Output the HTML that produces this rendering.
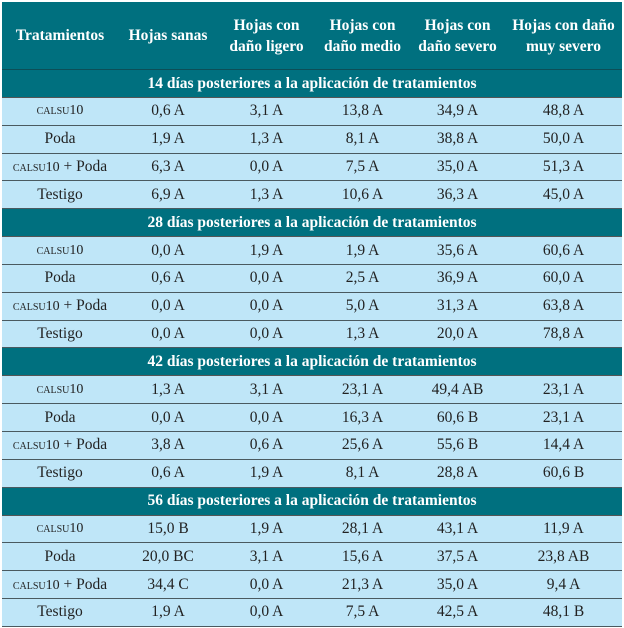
<!DOCTYPE html>
<html><head><meta charset="utf-8"><style>
body{margin:0;background:#fff;width:624px;height:628px;overflow:hidden}
table{position:absolute;left:2px;top:2px;width:620px;border-collapse:collapse;font-family:"Liberation Serif",serif;font-size:15.5px;color:#222;table-layout:fixed}
td,th{text-align:center;padding:0;vertical-align:middle}
th{background:#00707f;color:#fff;font-weight:bold;height:67px;line-height:21px}
tr.sec td{background:#00707f;color:#fff;font-weight:bold;height:27px;border-top:1px solid #0c4e57;border-bottom:1px solid #555}
tr.d td{background:#bfe6f8;height:26.8px;border-bottom:1px solid #4a5a60}
.sc{font-variant:small-caps;font-size:14px}
</style></head><body>
<table>
<colgroup><col style="width:116px"><col style="width:100px"><col style="width:97px"><col style="width:95px"><col style="width:95px"><col style="width:117px"></colgroup>
<tr><th>Tratamientos</th><th>Hojas sanas</th><th>Hojas con<br>daño ligero</th><th>Hojas con<br>daño medio</th><th>Hojas con<br>daño severo</th><th>Hojas con daño<br>muy severo</th></tr>
<tr class="sec"><td colspan="6">14 días posteriores a la aplicación de tratamientos</td></tr>
<tr class="d"><td class="sc">calsu10</td><td>0,6 A</td><td>3,1 A</td><td>13,8 A</td><td>34,9 A</td><td>48,8 A</td></tr>
<tr class="d"><td>Poda</td><td>1,9 A</td><td>1,3 A</td><td>8,1 A</td><td>38,8 A</td><td>50,0 A</td></tr>
<tr class="d"><td><span class="sc">calsu10</span> + Poda</td><td>6,3 A</td><td>0,0 A</td><td>7,5 A</td><td>35,0 A</td><td>51,3 A</td></tr>
<tr class="d"><td>Testigo</td><td>6,9 A</td><td>1,3 A</td><td>10,6 A</td><td>36,3 A</td><td>45,0 A</td></tr>
<tr class="sec"><td colspan="6">28 días posteriores a la aplicación de tratamientos</td></tr>
<tr class="d"><td class="sc">calsu10</td><td>0,0 A</td><td>1,9 A</td><td>1,9 A</td><td>35,6 A</td><td>60,6 A</td></tr>
<tr class="d"><td>Poda</td><td>0,6 A</td><td>0,0 A</td><td>2,5 A</td><td>36,9 A</td><td>60,0 A</td></tr>
<tr class="d"><td><span class="sc">calsu10</span> + Poda</td><td>0,0 A</td><td>0,0 A</td><td>5,0 A</td><td>31,3 A</td><td>63,8 A</td></tr>
<tr class="d"><td>Testigo</td><td>0,0 A</td><td>0,0 A</td><td>1,3 A</td><td>20,0 A</td><td>78,8 A</td></tr>
<tr class="sec"><td colspan="6">42 días posteriores a la aplicación de tratamientos</td></tr>
<tr class="d"><td class="sc">calsu10</td><td>1,3 A</td><td>3,1 A</td><td>23,1 A</td><td>49,4 AB</td><td>23,1 A</td></tr>
<tr class="d"><td>Poda</td><td>0,0 A</td><td>0,0 A</td><td>16,3 A</td><td>60,6 B</td><td>23,1 A</td></tr>
<tr class="d"><td><span class="sc">calsu10</span> + Poda</td><td>3,8 A</td><td>0,6 A</td><td>25,6 A</td><td>55,6 B</td><td>14,4 A</td></tr>
<tr class="d"><td>Testigo</td><td>0,6 A</td><td>1,9 A</td><td>8,1 A</td><td>28,8 A</td><td>60,6 B</td></tr>
<tr class="sec"><td colspan="6">56 días posteriores a la aplicación de tratamientos</td></tr>
<tr class="d"><td class="sc">calsu10</td><td>15,0 B</td><td>1,9 A</td><td>28,1 A</td><td>43,1 A</td><td>11,9 A</td></tr>
<tr class="d"><td>Poda</td><td>20,0 BC</td><td>3,1 A</td><td>15,6 A</td><td>37,5 A</td><td>23,8 AB</td></tr>
<tr class="d"><td><span class="sc">calsu10</span> + Poda</td><td>34,4 C</td><td>0,0 A</td><td>21,3 A</td><td>35,0 A</td><td>9,4 A</td></tr>
<tr class="d"><td>Testigo</td><td>1,9 A</td><td>0,0 A</td><td>7,5 A</td><td>42,5 A</td><td>48,1 B</td></tr>
</table>
</body></html>
